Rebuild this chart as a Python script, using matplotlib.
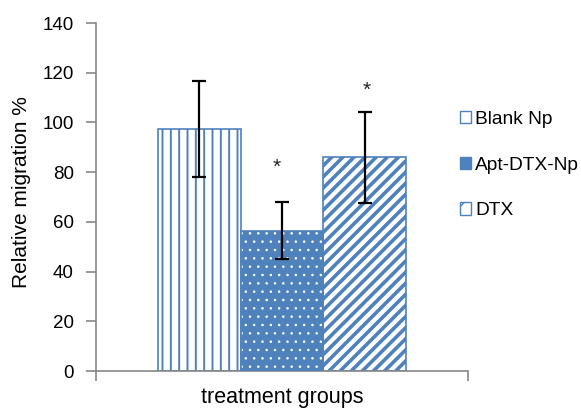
import matplotlib
matplotlib.use("Agg")
import matplotlib.pyplot as plt
import matplotlib.transforms as mtransforms
from matplotlib.patches import Patch

plt.rcParams['font.family'] = ['Liberation Sans', 'DejaVu Sans']

groups = ["Blank Np", "Apt-DTX-Np", "DTX"]
values = [97.2, 56.5, 86.0]
err_low = [78.0, 45.0, 67.5]
err_high = [116.5, 68.0, 104.0]
star_y = [None, 83.7, 114.6]
hatches = ["||", "..", "///"]
hatch_lw = [1.4, 0.6, 2.6]
xlabel = "treatment groups"
ylabel = "Relative migration %"
yticks = [0, 20, 40, 60, 80, 100, 120, 140]

blue = "#4F81BD"

fig = plt.figure(figsize=(5.81, 4.08), dpi=100)
ax = fig.add_axes([96/581, 1-371/408, (468-96)/581, (371-23)/408])

width = 1.0
xs = [0, 1, 2]
for x, v, h, hl in zip(xs, values, hatches, hatch_lw):
    with plt.rc_context({'hatch.linewidth': hl}):
        if h == "..":
            b = ax.bar(x, v, width=width, color=blue, edgecolor="white", hatch=h, linewidth=0, zorder=2)
            ax.bar(x, v, width=width, fill=False, edgecolor=blue, linewidth=1.2, zorder=3)
        else:
            b = ax.bar(x, v, width=width, color="white", edgecolor=blue, hatch=h, linewidth=1.2, zorder=2)
        for p in b:
            if hasattr(p, "set_hatch_linewidth"):
                p.set_hatch_linewidth(hl)

for x, v, lo, hi in zip(xs, values, err_low, err_high):
    ax.errorbar(x, v, yerr=[[v - lo], [hi - v]], fmt="none", ecolor="black",
                elinewidth=1.6, capsize=5, capthick=1.6, zorder=4)

star_dx = [0, -0.066, 0.02]
shift = mtransforms.offset_copy(ax.transData, fig=fig, x=0, y=-4, units="dots")
for x, s, dx in zip(xs, star_y, star_dx):
    if s is not None:
        ax.text(x + dx, s, "*", ha="center", va="center", fontsize=15,
                color="#222222", transform=shift)

ax.set_xlim(-1.247, 3.247)
ax.set_ylim(0, 140)
ax.set_yticks(yticks)
ax.set_xticks([-1.247, 3.247])
ax.set_xticklabels(["", ""])
ax.tick_params(axis="x", direction="out", length=7, color="#888888", width=1.2)
ax.tick_params(axis="y", direction="out", length=7, color="#888888", width=1.2, labelsize=13.5, pad=9)
for s in ["top", "right"]:
    ax.spines[s].set_visible(False)
for s in ["left", "bottom"]:
    ax.spines[s].set_color("#888888")
    ax.spines[s].set_linewidth(1.2)

fig.text(282/581, 1-397/408, xlabel, ha="center", va="center", fontsize=15.5)
fig.text(22/581, 1-192/408, ylabel, ha="center", va="center", rotation=90, fontsize=15)

handles = []
for g, h in zip(groups, hatches):
    if h == "..":
        handles.append(Patch(facecolor=blue, edgecolor=blue, label=g))
    else:
        handles.append(Patch(facecolor="white", edgecolor=blue, hatch=h[0], label=g))
fig.legend(handles=handles, loc="center left", bbox_to_anchor=(460/581, 1-165/408),
           frameon=False, fontsize=13.8, handlelength=0.6, handleheight=0.6,
           handletextpad=0.2, labelspacing=1.5, borderaxespad=0, borderpad=0)

fig.savefig("out.png", dpi=100)
